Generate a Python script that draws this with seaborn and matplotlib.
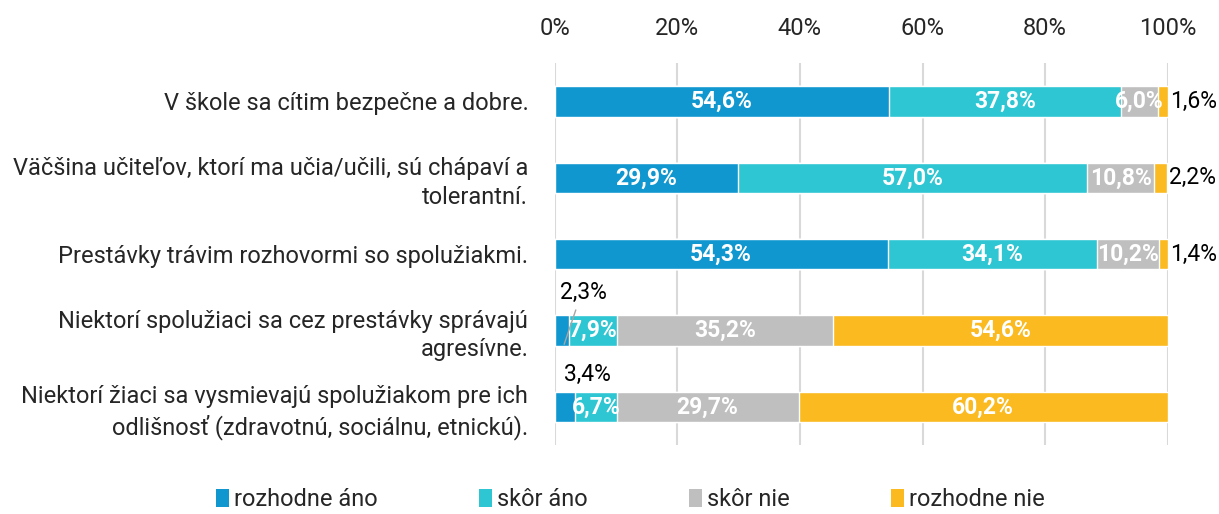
import matplotlib
matplotlib.use("Agg")
import matplotlib.pyplot as plt
import pandas as pd
import seaborn as sns
from matplotlib.patches import Patch

kategorie = ["V škole sa cítim bezpečne a dobre.",
             "Väčšina učiteľov, ktorí ma učia/učili, sú chápaví a\ntolerantní.",
             "Prestávky trávim rozhovormi so spolužiakmi.",
             "Niektorí spolužiaci sa cez prestávky správajú\nagresívne.",
             "Niektorí žiaci sa vysmievajú spolužiakom pre ich\nodlišnosť (zdravotnú, sociálnu, etnickú)."]
rozhodne_ano = [54.6, 29.9, 54.3, 2.3, 3.4]
skor_ano = [37.8, 57.0, 34.1, 7.9, 6.7]
skor_nie = [6.0, 10.8, 10.2, 35.2, 29.7]
rozhodne_nie = [1.6, 2.2, 1.4, 54.6, 60.2]
odpovede = ["rozhodne áno", "skôr áno", "skôr nie", "rozhodne nie"]
farby = ["#1097D0", "#2EC6D3", "#BFBFBF", "#FBBA20"]

sns.set_style("white")
plt.rcParams["font.family"] = ["Roboto", "DejaVu Sans"]

veri = pd.DataFrame({"kat": kategorie, odpovede[0]: rozhodne_ano, odpovede[1]: skor_ano,
                     odpovede[2]: skor_nie, odpovede[3]: rozhodne_nie})
kum = veri[odpovede].cumsum(axis=1)

fig = plt.figure(figsize=(12.19, 5.14), dpi=100)
ax = fig.add_axes([0.455, 0.134, 0.503, 0.743])

# stacked bars: draw the cumulative totals back to front
for i in range(3, -1, -1):
    sns.barplot(x=kum[odpovede[i]], y=veri["kat"], color=farby[i], orient="h",
                width=0.4, saturation=1, ax=ax, zorder=2)

# labels
for r in range(len(veri)):
    zac = 0
    for i, od in enumerate(odpovede):
        v = veri[od].iloc[r]
        txt = f"{v:.1f}".replace(".", ",") + "%"
        stred = zac + v / 2
        if v >= 5:
            ax.text(stred, r, txt, ha="center", va="center", color="white",
                    fontsize=16.5, fontweight="bold", zorder=4)
        elif i == 3:
            ax.text(kum[od].iloc[r] + 0.3, r, txt, ha="left", va="center",
                    color="black", fontsize=16.5, zorder=4)
        elif i == 0:
            dy = 0.5 if r == 3 else 0.43
            ax.text(stred + 3.6, r - dy, txt, ha="center", va="center",
                    color="black", fontsize=16.5, zorder=4)
            if r == 3:
                ax.plot([stred + 0.4, stred + 2.3], [r + 0.18, r - 0.27],
                        color="#A6A6A6", lw=1, zorder=5)
        zac += v

ax.set_xlim(0, 100)
ax.set_ylim(4.5, -0.5)
ax.set_xticks([0, 20, 40, 60, 80, 100])
ax.set_xticklabels([f"{t}%" for t in range(0, 101, 20)])
ax.xaxis.tick_top()
ax.tick_params(axis="x", length=0, pad=17, labelsize=17)
ax.tick_params(axis="y", length=0, pad=19, labelsize=17)
for t in ax.get_yticklabels():
    t.set_linespacing(1.3)
ax.set_xlabel("")
ax.set_ylabel("")
ax.grid(axis="x", color="#D9D9D9", lw=1.5, zorder=0)
ax.set_axisbelow(True)
for s in ax.spines.values():
    s.set_visible(False)

handles = [Patch(facecolor=f, edgecolor="none") for f in farby]
fig.legend(handles, odpovede, loc="center", bbox_to_anchor=(0.517, 0.028), ncol=4,
           frameon=False, fontsize=17, handlelength=0.55, handleheight=0.8,
           handletextpad=0.2, columnspacing=4.3)

fig.savefig("out.png", dpi=100)
